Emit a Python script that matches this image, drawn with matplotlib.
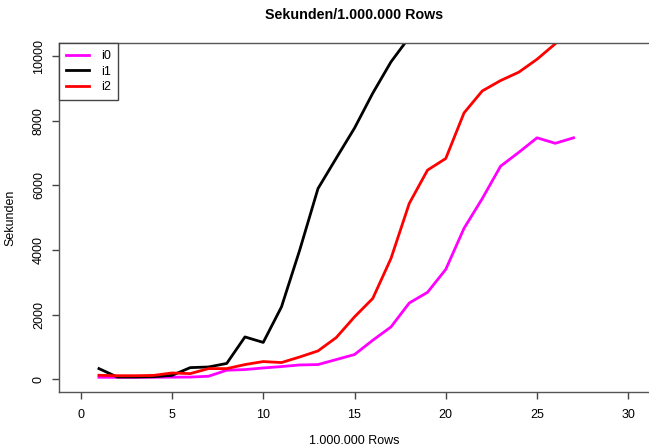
import matplotlib
matplotlib.use("Agg")
import matplotlib.pyplot as plt

plt.rcParams['font.family'] = ['Liberation Sans', 'DejaVu Sans']

x_i0 = list(range(1, 28))
i0 = [62, 60, 60, 62, 65, 68, 93, 280, 300, 350, 393, 443, 455, 610, 765,
      1207, 1620, 2360, 2690, 3400, 4670, 5590, 6590, 7020, 7470, 7300, 7470]

x_i1 = list(range(1, 19))
i1 = [330, 70, 70, 80, 120, 360, 380, 490, 1310, 1140, 2240, 4000, 5900,
      6840, 7770, 8850, 9820, 10580]

x_i2 = list(range(1, 28))
i2 = [124, 110, 110, 120, 195, 175, 330, 330, 455, 548, 517, 690, 877, 1290,
      1930, 2500, 3740, 5440, 6470, 6830, 8240, 8920, 9240, 9500, 9900, 10380, 10900]

labels = ["i0", "i1", "i2"]
colors = ["#FF00FF", "#000000", "#FF0000"]
xticks = [0, 5, 10, 15, 20, 25, 30]
yticks = [0, 2000, 4000, 6000, 8000, 10000]

W, H = 649, 448
fig = plt.figure(figsize=(W / 100, H / 100), dpi=100)
left, right, top, bottom = 58.8, 650.2, 43.1, 392.2
ax = fig.add_axes([left / W, (H - bottom) / H, (right - left) / W, (bottom - top) / H])

for xs, ys, lab, c in zip([x_i0, x_i1, x_i2], [i0, i1, i2], labels, colors):
    ax.plot(xs, ys, color=c, lw=2.0, label=lab, solid_joinstyle='round')

ax.set_xlim(-1.2, 31.2)
ax.set_ylim(-400, 10400)
ax.set_xticks(xticks)
ax.set_yticks(yticks)
ax.set_yticklabels([str(v) for v in yticks], rotation=90, va='center')
ax.tick_params(axis='x', direction='out', length=5, width=1, color='#444444', labelsize=9, pad=7)
ax.tick_params(axis='y', direction='out', length=5, width=1, color='#444444', labelsize=9, pad=5)
for s in ax.spines.values():
    s.set_color('#555555')
    s.set_linewidth(1)

ax.set_title("Sekunden/1.000.000 Rows", fontsize=10.3, fontweight='bold', pad=17)
ax.set_xlabel("1.000.000 Rows", fontsize=9, labelpad=10)
ax.set_ylabel("Sekunden", fontsize=9, labelpad=12)

leg = ax.legend(loc='upper left', borderaxespad=0, fancybox=False, fontsize=9,
                handlelength=1.9, handletextpad=0.95, labelspacing=0.3,
                borderpad=0.55, framealpha=1)
leg.get_frame().set_edgecolor('#444444')
leg.get_frame().set_linewidth(1)

fig.savefig("out.png", dpi=100)
